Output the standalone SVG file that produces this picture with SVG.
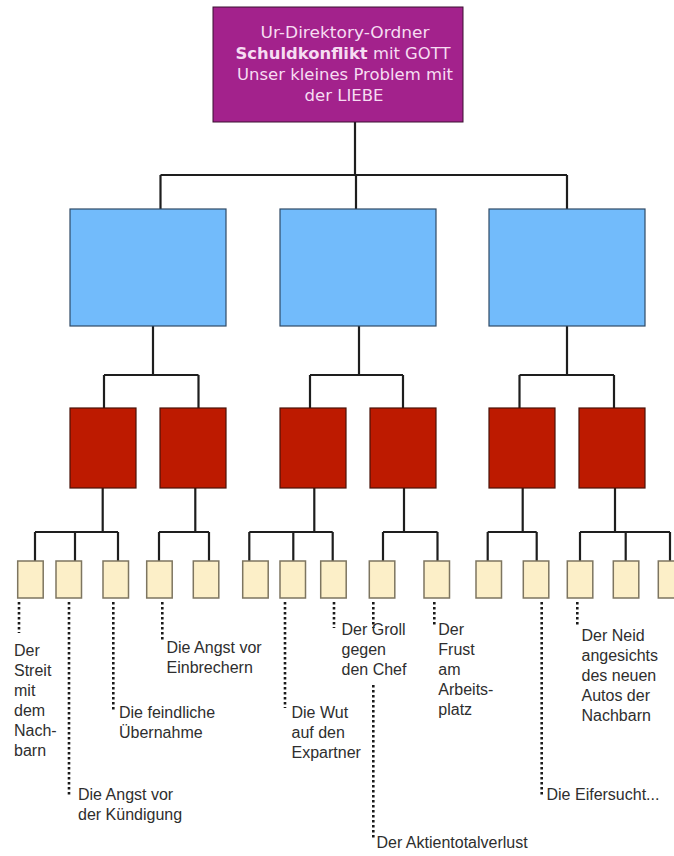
<svg xmlns="http://www.w3.org/2000/svg" width="674" height="856" viewBox="0 0 674 856">
<style>
.c{fill:none;stroke:#1e1e1e;stroke-width:2.2}
.d{fill:none;stroke:#1a1a1a;stroke-width:2.6;stroke-dasharray:2.4 2.6}
.root{fill:#a3228c;stroke:#3a1030;stroke-width:1}
.blue{fill:#72bbfb;stroke:#2f4a66;stroke-width:1.2}
.red{fill:#bd1a00;stroke:#4a1208;stroke-width:1.2}
.yel{fill:#fcefc8;stroke:#7d7560;stroke-width:1.5}
.rt{font-family:"DejaVu Sans",Verdana,sans-serif;font-size:15px;fill:#f6dcf2;text-anchor:middle}
.lb{font-family:"Liberation Sans",Arial,sans-serif;font-size:16px;fill:#2e2e2e}
</style>
<rect width="674" height="856" fill="#fff"/>
<g id="connectors">
<path class="c" d="M355 122V175M160.5 175H567M160.5 175V209M356 175V209M567 175V209"/>
<path class="c" d="M153 326V375M104 375H198.5M104 375V408M198.5 375V408"/>
<path class="c" d="M359 326V375M310 375H403M310 375V408M403 375V408"/>
<path class="c" d="M567 326V375M519.5 375H614M519.5 375V408M614 375V408"/>
<path class="c" d="M102.7 488V532M35 532H118M35 532V561M75 532V561M118 532V561"/>
<path class="c" d="M195.3 488V532M159 532H209M159 532V561M209 532V561"/>
<path class="c" d="M314.3 488V532M249.3 532H332.7M249.3 532V561M293.3 532V561M332.7 532V561"/>
<path class="c" d="M404 488V532M383 532H437.5M383 532V561M437.5 532V561"/>
<path class="c" d="M522.7 488V532M487.7 532H536.7M487.7 532V561M536.7 532V561"/>
<path class="c" d="M615 488V532M580 532H670M580 532V561M625.7 532V561M670 532V561"/>
<path class="d" d="M19 602V633M69 602V795M113.3 602V710M162.3 602V640M285 602V708M334 602V628M373.3 602V628M373.3 685V838M434.3 602V625M541.7 602V795M577.3 602V627"/>
</g>
<g id="root"><rect class="root" x="213" y="7" width="250" height="115"/>
<text class="rt" x="345" y="38" textLength="169" lengthAdjust="spacingAndGlyphs">Ur-Direktory-Ordner</text>
<text class="rt" x="343" y="59" textLength="215" lengthAdjust="spacingAndGlyphs"><tspan font-weight="bold">Schuldkonflikt</tspan> mit GOTT</text>
<text class="rt" x="345" y="80" textLength="216" lengthAdjust="spacingAndGlyphs">Unser kleines Problem mit</text>
<text class="rt" x="344" y="101" textLength="79" lengthAdjust="spacingAndGlyphs">der LIEBE</text></g>
<g id="b1"><rect class="blue" x="70" y="209" width="156" height="117"/></g>
<g id="b2"><rect class="blue" x="280" y="209" width="156" height="117"/></g>
<g id="b3"><rect class="blue" x="489" y="209" width="156" height="117"/></g>
<g id="r1"><rect class="red" x="70" y="408" width="66" height="80"/></g>
<g id="r2"><rect class="red" x="160" y="408" width="66" height="80"/></g>
<g id="r3"><rect class="red" x="280" y="408" width="66" height="80"/></g>
<g id="r4"><rect class="red" x="370" y="408" width="66" height="80"/></g>
<g id="r5"><rect class="red" x="489" y="408" width="66" height="80"/></g>
<g id="r6"><rect class="red" x="579" y="408" width="66" height="80"/></g>
<g id="y1"><rect class="yel" x="17.7" y="561" width="25.5" height="37"/></g>
<g id="y2"><rect class="yel" x="56" y="561" width="25.5" height="37"/></g>
<g id="y3"><rect class="yel" x="103" y="561" width="25.5" height="37"/></g>
<g id="y4"><rect class="yel" x="146.7" y="561" width="25.5" height="37"/></g>
<g id="y5"><rect class="yel" x="193.3" y="561" width="25.5" height="37"/></g>
<g id="y6"><rect class="yel" x="242.7" y="561" width="25.5" height="37"/></g>
<g id="y7"><rect class="yel" x="280" y="561" width="25.5" height="37"/></g>
<g id="y8"><rect class="yel" x="320.7" y="561" width="25.5" height="37"/></g>
<g id="y9"><rect class="yel" x="369.3" y="561" width="25.5" height="37"/></g>
<g id="y10"><rect class="yel" x="424" y="561" width="25.5" height="37"/></g>
<g id="y11"><rect class="yel" x="476" y="561" width="25.5" height="37"/></g>
<g id="y12"><rect class="yel" x="523.3" y="561" width="25.5" height="37"/></g>
<g id="y13"><rect class="yel" x="567.3" y="561" width="25.5" height="37"/></g>
<g id="y14"><rect class="yel" x="613.3" y="561" width="25.5" height="37"/></g>
<g id="y15"><rect class="yel" x="658.3" y="561" width="25.5" height="37"/></g>
<g id="labels" class="lb">
<text x="14" y="656">Der</text><text x="14" y="676">Streit</text><text x="14" y="696">mit</text><text x="14" y="716">dem</text><text x="14" y="736">Nach-</text><text x="14" y="756">barn</text>
<text x="78" y="800">Die Angst vor</text><text x="78" y="820">der Kündigung</text>
<text x="119" y="718">Die feindliche</text><text x="119" y="738">Übernahme</text>
<text x="166.5" y="653">Die Angst vor</text><text x="166.5" y="673">Einbrechern</text>
<text x="291.5" y="718">Die Wut</text><text x="291.5" y="738">auf den</text><text x="291.5" y="758">Expartner</text>
<text x="341.5" y="635">Der Groll</text><text x="341.5" y="655">gegen</text><text x="341.5" y="675">den Chef</text>
<text x="376.5" y="848">Der Aktientotalverlust</text>
<text x="438.3" y="635">Der</text><text x="438.3" y="655">Frust</text><text x="438.3" y="675">am</text><text x="438.3" y="695">Arbeits-</text><text x="438.3" y="715">platz</text>
<text x="546.5" y="800">Die Eifersucht...</text>
<text x="581.5" y="641">Der Neid</text><text x="581.5" y="661">angesichts</text><text x="581.5" y="681">des neuen</text><text x="581.5" y="701">Autos der</text><text x="581.5" y="721">Nachbarn</text>
</g>
</svg>
